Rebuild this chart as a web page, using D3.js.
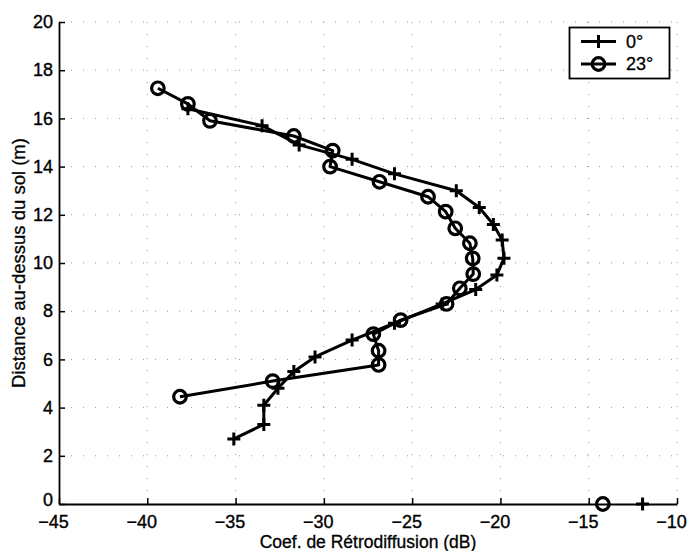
<!DOCTYPE html>
<html>
<head>
<meta charset="utf-8">
<script src="https://cdn.jsdelivr.net/npm/d3@7"></script>
<style>
  body { margin: 0; background: #fff; }
  text { font-family: "Liberation Sans", Arial, Helvetica, sans-serif; }
</style>
</head>
<body>
<div id="chart"></div>
<script>
// Données (x = coef. en dB, y = hauteur en m)
const serie0 = [
  [-37.7, 16.4], [-33.5, 15.7], [-31.4, 14.9], [-28.4, 14.3], [-26.0, 13.7],
  [-22.5, 13.0], [-21.2, 12.3], [-20.4, 11.6], [-19.9, 10.95], [-19.8, 10.2],
  [-20.2, 9.5], [-21.4, 8.9], [-23.3, 8.3], [-26.0, 7.5], [-28.4, 6.8],
  [-30.5, 6.1], [-31.7, 5.5], [-32.6, 4.8], [-33.4, 4.1], [-33.4, 3.3],
  [-35.1, 2.7]
];
const serie23 = [
  [-39.4, 17.25], [-37.7, 16.6], [-36.45, 15.9], [-31.7, 15.27], [-29.5, 14.66],
  [-29.65, 14.0], [-26.85, 13.37], [-24.1, 12.75], [-23.1, 12.13], [-22.56, 11.44],
  [-21.73, 10.82], [-21.57, 10.19], [-21.54, 9.54], [-22.3, 8.95], [-23.05, 8.3],
  [-25.65, 7.63], [-27.2, 7.05], [-26.9, 6.36], [-26.9, 5.77], [-32.9, 5.1],
  [-38.15, 4.45]
];
// points isolés au sol
const isole0 = [[-11.95, 0]];
const isole23 = [[-14.2, 0]];

const xTicks = [-45, -40, -35, -30, -25, -20, -15, -10];
const yTicks = [0, 2, 4, 6, 8, 10, 12, 14, 16, 18, 20];
const legendLabels = ["0°", "23°"];

const width = 690, height = 551;
const margin = {top: 22, right: 13, bottom: 47, left: 59};

const svg = d3.select("#chart").append("svg")
  .attr("width", width)
  .attr("height", height);

const x = d3.scaleLinear().domain([-45, -10]).range([margin.left, width - margin.right]);
const y = d3.scaleLinear().domain([0, 20]).range([height - margin.bottom, margin.top]);

// grille pointillée (très pâle sur le scan)
const grid = svg.append("g")
  .attr("stroke", "#000")
  .attr("stroke-width", 1)
  .attr("stroke-dasharray", "1,11")
  .attr("opacity", 0.4);
grid.selectAll(".gx").data(xTicks.slice(1, -1)).join("line")
  .attr("x1", d => x(d)).attr("x2", d => x(d))
  .attr("y1", y(20)).attr("y2", y(0));
grid.selectAll(".gy").data(yTicks.slice(1, -1)).join("line")
  .attr("y1", d => y(d)).attr("y2", d => y(d))
  .attr("x1", x(-45)).attr("x2", x(-10));
// bords haut et droit (presque effacés sur le scan)
grid.append("line").attr("x1", x(-45)).attr("x2", x(-10)).attr("y1", y(20)).attr("y2", y(20));
grid.append("line").attr("x1", x(-10)).attr("x2", x(-10)).attr("y1", y(20)).attr("y2", y(0));

// axes
const xAxis = svg.append("g")
  .attr("transform", `translate(0,${y(0)})`)
  .call(d3.axisBottom(x).tickValues(xTicks).tickSizeInner(-6).tickSizeOuter(0).tickPadding(11));
const yAxis = svg.append("g")
  .attr("transform", `translate(${x(-45)},0)`)
  .call(d3.axisLeft(y).tickValues(yTicks).tickSizeInner(-6).tickSizeOuter(0).tickPadding(6));

[xAxis, yAxis].forEach(a => {
  a.select(".domain").attr("stroke-width", 1.8);
  a.selectAll(".tick line").attr("stroke-width", 1.5);
  a.selectAll("text").style("font-size", "18px").attr("fill", "#000")
    .attr("stroke", "#000").attr("stroke-width", 0.35);
});
// les étiquettes de x sont un peu décalées vers la gauche dans l'original
xAxis.selectAll(".tick text").attr("dx", -6);
// le "0" de l'axe y est remonté pour ne pas chevaucher "-45"
yAxis.selectAll(".tick text").filter(d => d === 0).attr("y", -4);

// titres des axes
svg.append("text")
  .attr("x", (x(-45) + x(-10)) / 2)
  .attr("y", 548)
  .attr("text-anchor", "middle")
  .style("font-size", "17.5px")
  .attr("stroke", "#000").attr("stroke-width", 0.3)
  .text("Coef. de Rétrodiffusion (dB)");

svg.append("text")
  .attr("transform", `translate(25,${(y(0) + y(20)) / 2}) rotate(-90)`)
  .attr("text-anchor", "middle")
  .style("font-size", "18.5px")
  .attr("stroke", "#000").attr("stroke-width", 0.3)
  .text("Distance au-dessus du sol (m)");

const line = d3.line().x(d => x(d[0])).y(d => y(d[1]));

const plot = svg.append("g");

plot.append("path").datum(serie0)
  .attr("d", line).attr("fill", "none")
  .attr("stroke", "#000").attr("stroke-width", 3).attr("stroke-linejoin", "round");
plot.append("path").datum(serie23)
  .attr("d", line).attr("fill", "none")
  .attr("stroke", "#000").attr("stroke-width", 3).attr("stroke-linejoin", "round");

function plus(g, pts) {
  g.selectAll(null).data(pts).join("path")
    .attr("d", d => {
      const cx = x(d[0]), cy = y(d[1]), s = 6.5;
      return `M${cx - s},${cy}H${cx + s}M${cx},${cy - s}V${cy + s}`;
    })
    .attr("stroke", "#000").attr("stroke-width", 3).attr("fill", "none");
}
function cercle(g, pts) {
  g.selectAll(null).data(pts).join("circle")
    .attr("cx", d => x(d[0])).attr("cy", d => y(d[1]))
    .attr("r", 6.3)
    .attr("fill", "none").attr("stroke", "#000").attr("stroke-width", 3.2);
}

plus(plot.append("g"), serie0.concat(isole0));
cercle(plot.append("g"), serie23.concat(isole23));

// légende
const leg = svg.append("g");
leg.append("rect")
  .attr("x", 569.5).attr("y", 27.5).attr("width", 100).attr("height", 51)
  .attr("fill", "#fff").attr("stroke", "#000").attr("stroke-width", 1.8);
legendLabels.forEach((lab, i) => {
  const ly = 41.5 + i * 22.5;
  leg.append("line")
    .attr("x1", 581).attr("x2", 616).attr("y1", ly).attr("y2", ly)
    .attr("stroke", "#000").attr("stroke-width", 3);
  const g = leg.append("g");
  if (i === 0) plus(g, [[x.invert(598.5), y.invert(ly)]]);
  else cercle(g, [[x.invert(598.5), y.invert(ly)]]);
  leg.append("text")
    .attr("x", 626).attr("y", ly + 6)
    .style("font-size", "18px")
    .attr("stroke", "#000").attr("stroke-width", 0.3)
    .text(lab);
});
</script>
</body>
</html>
